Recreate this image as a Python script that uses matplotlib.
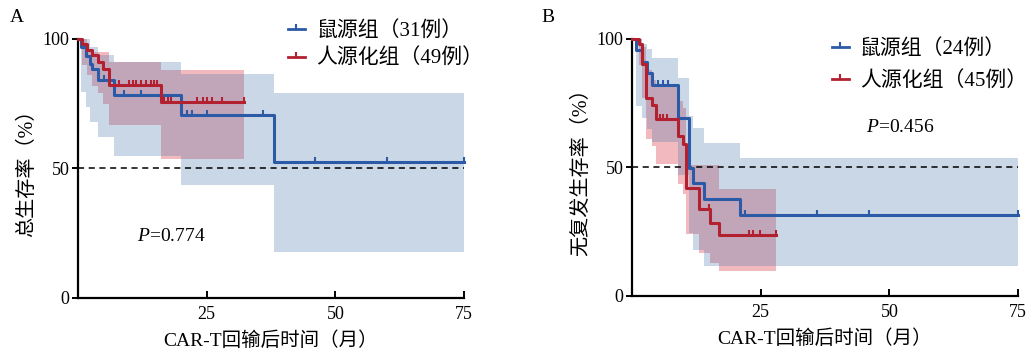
import numpy as np
import matplotlib
matplotlib.use('Agg')
import matplotlib.pyplot as plt
from matplotlib.lines import Line2D
from matplotlib.path import Path

plt.rcParams['font.family'] = ['Liberation Serif', 'Noto Sans CJK SC']
plt.rcParams['mathtext.fontset'] = 'custom'
plt.rcParams['mathtext.rm'] = 'Liberation Serif'
plt.rcParams['mathtext.it'] = 'Liberation Serif:italic'

# ---------------- data ----------------
t_end = 75

# A: overall survival
os_m_t = [0, 0.5, 1.6, 2.3, 2.8, 3.9, 7.0, 19.95, 38.0]
os_m_s = [100, 96.8, 93.5, 90.3, 88.6, 84.1, 78.3, 70.5, 52.5]
os_m_hi = [100, 100, 100, 97, 97, 93.8, 91, 86.3, 79]
os_m_lo = [100, 79.6, 73.8, 68, 68, 62.1, 55, 43.8, 17.6]
os_m_cens = [5.05, 8.9, 12.2, 21.2, 22.2, 25.1, 36.0, 46.0, 60.1, 75.0]

os_h_t = [0, 0.8, 1.8, 2.8, 3.8, 4.8, 6.0, 16.1]
os_h_s = [100, 97.9, 95.9, 93.8, 91.2, 88.6, 82.4, 75.7]
os_h_hi = [100, 100, 95.1, 95.1, 95.1, 95.1, 91.2, 88.2]
os_h_lo = [100, 90, 86, 82, 79, 75, 66.7, 53.8]
os_h_cens = [8.0, 9.9, 10.6, 11.2, 12.2, 13.2, 14.1, 14.8, 15.4,
             16.7, 17.4, 18.0, 23.2, 24.2, 25.1, 26.1, 28.0, 32.3]
os_h_end = 32.3

# B: relapse-free survival
rfs_m_t = [0, 0.85, 1.95, 2.9, 3.9, 8.9, 11.0, 11.9, 13.9, 20.9]
rfs_m_s = [100, 95.7, 91.1, 86.9, 82.0, 69.4, 49.9, 44.1, 37.6, 31.4]
rfs_m_hi = [100, 100, 98, 96, 92.7, 85, 70, 65.5, 59.7, 53.8]
rfs_m_lo = [100, 73.9, 69.4, 65, 60, 47, 24.6, 18, 11.7, 11.7]
rfs_m_cens = [5.1, 6.0, 7.0, 21.9, 36.0, 46.0, 75.0]

rfs_h_t = [0, 1.36, 2.0, 2.66, 3.8, 4.6, 8.9, 9.9, 10.4, 13.0, 15.2, 16.9]
rfs_h_s = [100, 97.9, 90.2, 77.2, 74.2, 68.8, 62.3, 59.0, 42.1, 33.7, 28.5, 23.7]
rfs_h_hi = [100, 100, 97, 88, 84, 82, 76, 73, 51, 51, 51, 41.8]
rfs_h_lo = [100, 90, 77, 61, 58.4, 51.2, 43.5, 39.6, 24, 16.9, 13, 9.7]
rfs_h_cens = [5.4, 6.0, 6.8, 14.9, 22.7, 23.6, 24.8, 27.9]
rfs_h_end = 27.9

labels_a = ['鼠源组（31例）', '人源化组（49例）']
labels_b = ['鼠源组（24例）', '人源化组（45例）']
p_a = '$P$=0.774'
p_b = '$P$=0.456'

blue = '#2b5ba6'
red = '#b3202f'
blue_band = '#527db2'
red_band = '#f2b9be'

tick_mark = Path([(0, -0.25), (0, 1.0)])


def band(ax, t, lo, hi, end, color, alpha):
    ax.fill_between(t + [end], lo + [lo[-1]], hi + [hi[-1]], step='post',
                    color=color, alpha=alpha, lw=0)


def km(ax, t, s, end, cens, color):
    ax.step(t + [end], s + [s[-1]], where='post', color=color, lw=2.2,
            clip_on=False, zorder=4)
    idx = np.searchsorted(t, cens, side='right') - 1
    ax.plot(cens, np.array(s)[idx], ls='none', marker=tick_mark, ms=7,
            mew=1.5, color=color, clip_on=False, zorder=4)


def style(ax, ylabel):
    ax.set_xlim(0, 75)
    ax.set_ylim(0, 100)
    ax.spines['top'].set_visible(False)
    ax.spines['right'].set_visible(False)
    for sp in ['left', 'bottom']:
        ax.spines[sp].set_linewidth(1.6)
    ax.set_xticks([25, 50, 75])
    ax.set_yticks([0, 50, 100])
    ax.tick_params(axis='x', direction='in', length=5, width=1.4, labelsize=13, pad=6)
    ax.tick_params(axis='y', direction='out', length=4, width=1.4, labelsize=13, pad=2)
    ax.axhline(50, color='black', lw=1.1, ls=(0, (4, 3)), zorder=3)
    ax.set_xlabel('CAR-T回输后时间（月）', fontsize=14, labelpad=6)
    ax.set_ylabel(ylabel, fontsize=14.5, labelpad=4)


def add_legend(ax, labels, anchor, spacing):
    handles = [Line2D([], [], color=blue, lw=2, marker=tick_mark, ms=7, mew=1.5),
               Line2D([], [], color=red, lw=2, marker=tick_mark, ms=7, mew=1.5)]
    ax.legend(handles, labels, loc='upper left', bbox_to_anchor=anchor,
              bbox_transform=fig.transFigure, frameon=False, fontsize=15,
              handlelength=0.8, handletextpad=0.55, labelspacing=spacing,
              borderpad=0, borderaxespad=0)


fig = plt.figure(figsize=(10.27, 3.55), dpi=100)
ax1 = fig.add_axes([0.0759, 0.1606, 0.3759, 0.7296])
ax2 = fig.add_axes([0.6154, 0.1662, 0.3758, 0.7240])

# panel A
band(ax1, os_h_t, os_h_lo, os_h_hi, os_h_end, red_band, 1.0)
band(ax1, os_m_t, os_m_lo, os_m_hi, t_end, blue_band, 0.3)
km(ax1, os_m_t, os_m_s, t_end, os_m_cens, blue)
km(ax1, os_h_t, os_h_s, os_h_end, os_h_cens, red)
style(ax1, '总生存率（%）')
ax1.text(18.1, 23.6, p_a, fontsize=14, ha='center', va='center')
add_legend(ax1, labels_a, (0.2804, 0.940), 0.38)

# panel B
band(ax2, rfs_h_t, rfs_h_lo, rfs_h_hi, rfs_h_end, red_band, 1.0)
band(ax2, rfs_m_t, rfs_m_lo, rfs_m_hi, t_end, blue_band, 0.3)
km(ax2, rfs_m_t, rfs_m_s, t_end, rfs_m_cens, blue)
km(ax2, rfs_h_t, rfs_h_s, rfs_h_end, rfs_h_cens, red)
style(ax2, '无复发生存率（%）')
ax2.text(52.1, 65.4, p_b, fontsize=14, ha='center', va='center')
add_legend(ax2, labels_b, (0.810, 0.889), 0.58)

fig.text(0.0166, 0.952, 'A', fontsize=14, ha='center', va='center')
fig.text(0.534, 0.952, 'B', fontsize=14, ha='center', va='center')

fig.savefig('out.png', dpi=100)
